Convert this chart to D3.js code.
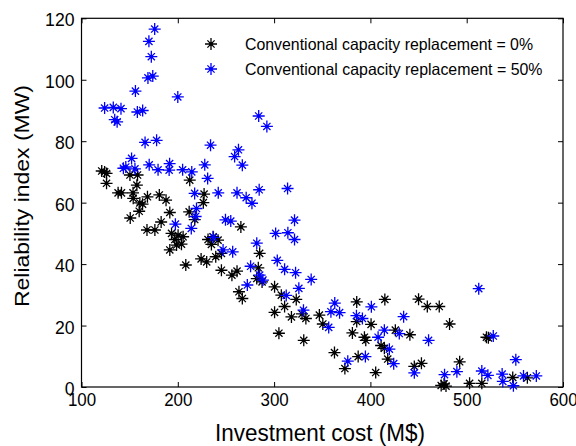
<!DOCTYPE html>
<html>
<head>
<meta charset="utf-8">
<script src="https://cdn.jsdelivr.net/npm/d3@7"></script>
<style>
  html, body { margin: 0; padding: 0; background: #fff; }
  svg { display: block; }
  text { font-family: "Liberation Sans", Arial, Helvetica, sans-serif; fill: #000; }
</style>
</head>
<body>
<svg id="chart" width="576" height="446"></svg>
<script>
// ---- data ----
const seriesNames = [
  "Conventional capacity replacement = 0%",
  "Conventional capacity replacement = 50%"
];
const seriesColors = ["#000000", "#0000ff"];
const xTicks = [100, 200, 300, 400, 500, 600];
const yTicks = [0, 20, 40, 60, 80, 100, 120];
const xLabel = "Investment cost (M$)";
const yLabel = "Reliability index (MW)";

// replacement = 0% : [investment cost, reliability index]
const rep0 = [
  [121,70.3],[124,70],[126,69.5],[126,66.3],[150.3,69],[158.2,69],[157.5,65.7],
  [138,63.2],[141.5,63.2],[153.5,63.2],[153.7,61.4],[168.5,61.9],[160.6,59.9],[163.4,59.5],
  [180.8,62.5],[187.8,60.8],[212.4,67.3],[227.3,62.8],[226.5,60],[159.9,57.2],[191.7,56.8],
  [211.8,57],[150.6,55],[182.7,53.7],[217.6,54.5],[168,51.1],[176.2,51.1],[193.5,50],
  [200.3,49.4],[196.9,48],[205.5,48.9],[198.7,46.2],[203.8,46.5],[191.7,44.6],[265.5,52.1],
  [231.4,48],[236.6,48.9],[241.8,47.8],[234.9,46.4],[239.4,42.4],[245.3,43.5],[208.3,39.7],
  [224.2,41.7],[230,40.7],[245.3,38],[256.2,36.4],[261.5,37.7],[285,43.5],[283.6,38.8],
  [282,35.3],[287.5,34.2],[263.5,31],[267,28.8],[300.5,32.6],[307.5,29.9],[323,28.5],
  [300.5,24.3],[310.9,26.2],[318,22.8],[329,23.8],[333,22.3],[347,23.4],[350.6,20.5],
  [305,17.5],[330.8,15.2],[362.7,11.2],[373.5,6],[385.8,27.7],[385.8,21.3],[381.3,17.6],
  [393.8,16.2],[395.2,15.2],[400.7,20.4],[415,28.5],[411.1,13.5],[414.5,12.6],[418,9.1],
  [387.3,9.9],[405.5,4.7],[425.9,18.5],[441,17],[450,28.6],[459.1,26.2],[471.5,26.2],
  [482.2,20.5],[445.6,6.7],[453,7.7],[492.7,8.2],[473.5,0.5],[476.5,1],[478.5,0.3],
  [503,1.2],[515.7,1.2],[520.5,16.2],[522.5,16],[547.8,3.1],[563,3]
];

// replacement = 50% : [investment cost, reliability index]
const rep50 = [
  [176,116.5],[170,112.5],[172.5,107.5],[174,101.2],[169,100.6],[156,96.3],[200,94.4],
  [124,90.8],[133,91],[141,90.6],[134.5,87],[137,86.3],[158,89.5],[163.5,90],
  [166,79.6],[178,80.3],[234,78.7],[263,77.2],[259,75],[267,72.2],[284,88.2],[292.5,84.8],
  [228,72.3],[231,67.9],[143.5,71.2],[146,71.6],[152,74.4],[155.5,71],[170.3,72.3],
  [179.5,70.7],[191.5,72.7],[191,70.6],[205,70.7],[214.5,70],[217.5,63],[242,63.2],
  [261.5,63.2],[271,61.6],[277,59.8],[284.5,64.2],[314,64.6],[219.4,58.1],[218.5,55.5],
  [197.5,53],[214,51.6],[237,48.7],[249.5,54.4],[255,54],[247,44.6],[257,44],[282,46.8],
  [301.6,50],[314.3,50.2],[321.2,48],[321.2,54.3],[275.6,39.3],[285,36.4],[288.4,34.8],
  [303.3,41.2],[310.9,38.3],[322.3,37.2],[272.2,33.2],[312.6,29.8],[325.7,32.1],[338.5,35],
  [330.5,25],[363,27.3],[359,24.5],[368,24.2],[356.7,19.4],[385.5,23.2],[391.7,22.3],
  [401,26.1],[376.5,8.4],[394.8,9.9],[414.5,18.5],[408,16.2],[434.5,22.9],[430,17.4],
  [419.7,12.3],[424.2,7.6],[460.4,15.2],[445.6,4.6],[477,4],[489.8,5],[512.5,32],
  [527.6,16.6],[551,8.9],[515.7,5.2],[522,3.8],[536.8,4.2],[537.5,1.8],[548.5,0.4],
  [559,3.6],[572.3,3.6]
];
const allSeries = [rep0, rep50];

// ---- layout ----
const svg = d3.select("#chart");
const L = 81.5, R = 563, T = 18.3, B = 387;
const x = d3.scaleLinear().domain([100, 600]).range([L, R]);
const y = d3.scaleLinear().domain([0, 120]).range([B, T]);

const starPath = "M-6,0H6M0,-6V6M-3.6,-3.6L3.6,3.6M-3.6,3.6L3.6,-3.6";

function fitText(sel, perChar) {
  sel.each(function () {
    const t = d3.select(this);
    const n = t.text().length;
    t.attr("textLength", perChar * n).attr("lengthAdjust", "spacingAndGlyphs");
  });
}

// axes (ticks inward)
const gx = svg.append("g").attr("transform", `translate(0,${B})`)
  .call(d3.axisBottom(x).tickValues(xTicks).tickSize(-5).tickPadding(4).tickFormat(d3.format("d")));
const gxTop = svg.append("g").attr("transform", `translate(0,${T})`)
  .call(d3.axisTop(x).tickValues(xTicks).tickSize(-5).tickFormat(""));
const gy = svg.append("g").attr("transform", `translate(${L},0)`)
  .call(d3.axisLeft(y).tickValues(yTicks).tickSize(-5).tickPadding(7).tickFormat(d3.format("d")));
const gyR = svg.append("g").attr("transform", `translate(${R},0)`)
  .call(d3.axisRight(y).tickValues(yTicks).tickSize(-5).tickFormat(""));

[gx, gxTop, gy, gyR].forEach(g => {
  g.select(".domain").remove();
  g.selectAll(".tick line").attr("stroke", "#000").attr("stroke-width", 1);
});
gx.selectAll(".tick text").attr("font-size", 19).attr("fill", "#000")
  .attr("dy", "0.78em").call(fitText, 9.4);
gy.selectAll(".tick text").attr("font-size", 19).attr("fill", "#000")
  .attr("dy", "0.4em").call(fitText, 9.8);

// frame
svg.append("rect").attr("x", L).attr("y", T).attr("width", R - L).attr("height", B - T)
  .attr("fill", "none").attr("stroke", "#000").attr("stroke-width", 1.2);

// points
const plot = svg.append("g");
allSeries.forEach((data, i) => {
  const g = plot.append("g").attr("stroke", seriesColors[i]).attr("fill", seriesColors[i]);
  const pts = g.selectAll("g.pt").data(data).join("g")
    .attr("class", "pt")
    .attr("transform", d => `translate(${x(d[0])},${y(d[1])})`);
  pts.append("path").attr("d", starPath).attr("stroke-width", 1.3).attr("fill", "none");
  pts.append("circle").attr("r", 1.7).attr("stroke", "none");
});

// legend
const legY = [44, 69];
seriesNames.forEach((name, i) => {
  const g = svg.append("g").attr("transform", `translate(211,${legY[i]})`);
  g.append("path").attr("d", starPath).attr("stroke", seriesColors[i]).attr("stroke-width", 1.3).attr("fill", "none");
  g.append("circle").attr("r", 1.7).attr("fill", seriesColors[i]);
  g.append("text").attr("x", 34).attr("y", 0).attr("dy", "0.36em")
    .attr("font-size", 16.5)
    .attr("textLength", i === 0 ? 288 : 297.5).attr("lengthAdjust", "spacingAndGlyphs")
    .text(name);
});

// axis labels
svg.append("text").attr("x", 320).attr("y", 441).attr("text-anchor", "middle")
  .attr("font-size", 23).attr("textLength", 210).attr("lengthAdjust", "spacingAndGlyphs")
  .text(xLabel);
svg.append("text").attr("transform", `translate(29,196) rotate(-90)`).attr("text-anchor", "middle")
  .attr("font-size", 21).attr("textLength", 222).attr("lengthAdjust", "spacingAndGlyphs")
  .text(yLabel);
</script>
</body>
</html>
